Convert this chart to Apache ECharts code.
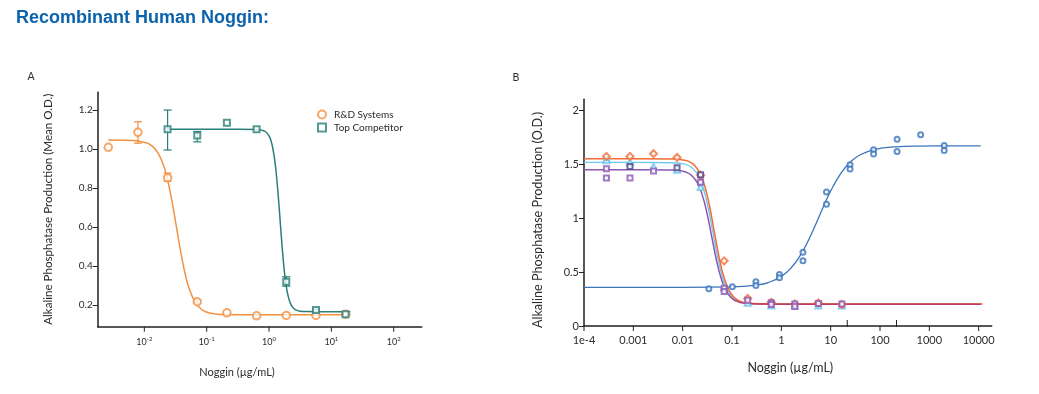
<!DOCTYPE html>
<html><head><meta charset="utf-8">
<script src="https://cdn.jsdelivr.net/npm/echarts@6/dist/echarts.min.js"></script>
<style>html,body{margin:0;padding:0;background:#fff}#c{width:1039px;height:394px}</style>
</head><body><div id="c"></div>
<script>
// ---------- Panel A data ----------
const concA = [0.00264, 0.00789, 0.0236, 0.0706, 0.211, 0.632, 1.89, 5.66, 16.9];
const rndA = [1.009, 1.086, 0.853, 0.217, 0.160, 0.145, 0.147, 0.147, 0.153];
const compConcA = [0.0236, 0.0706, 0.211, 0.632, 1.89, 5.66, 16.9];
const compA = [1.101, 1.069, 1.135, 1.101, 0.319, 0.174, 0.153];
const rndErrA = [[0.00789, 1.03, 1.14], [0.0236, 0.834, 0.877], [0.0706, 0.209, 0.225]];
const compErrA = [[0.0236, 0.995, 1.2], [0.0706, 1.037, 1.09], [1.89, 0.297, 0.345], [5.66, 0.168, 0.18]];
const rndFitA = [[0.00264,1.046],[0.00646,1.0438],[0.01023,1.034],[0.01288,1.019],[0.01622,0.984],[0.02042,0.914],[0.02291,0.858],[0.0257,0.788],[0.02884,0.703],[0.03236,0.610],[0.03631,0.515],[0.04074,0.428],[0.04571,0.353],[0.05129,0.294],[0.06457,0.218],[0.08128,0.180],[0.1023,0.163],[0.1288,0.156],[0.1622,0.152],[0.257,0.1505],[0.646,0.15],[20.4,0.15]];
const compFitA = [[0.0236,1.101],[0.3162,1.101],[0.631,1.1001],[0.794,1.0954],[0.891,1.0872],[1.0,1.0671],[1.072,1.0435],[1.148,1.0054],[1.230,0.9466],[1.318,0.8619],[1.413,0.7515],[1.514,0.6249],[1.622,0.4995],[1.738,0.3923],[1.862,0.3111],[1.995,0.2554],[2.188,0.2110],[2.399,0.1881],[2.692,0.1749],[3.162,0.1685],[3.981,0.1666],[6.31,0.166],[20.2,0.166]];
const yTicksA = [0.2, 0.4, 0.6, 0.8, 1.0, 1.2];
const xTickValsA = [0.01, 0.1, 1, 10, 100];
const xTickSupA = ['-2', '-1', '0', '1', '2'];

// ---------- Panel B data ----------
const orangePtsB = [[0.000285,1.575],[0.000855,1.575],[0.00257,1.60],[0.0077,1.565],[0.0231,1.40],[0.0694,0.605],[0.208,0.255],[0.625,0.22],[1.875,0.205],[5.63,0.215],[16.9,0.2]];
const cyanPtsB = [[0.000285,1.555],[0.000285,1.54],[0.000855,1.52],[0.00257,1.48],[0.0077,1.45],[0.0231,1.29],[0.0694,0.365],[0.208,0.215],[0.625,0.19],[1.875,0.19],[5.63,0.19],[16.9,0.19]];
const purplePtsB = [[0.000285,1.46],[0.000285,1.375],[0.000855,1.375],[0.00257,1.44],[0.0231,1.335],[0.0694,0.35],[0.0694,0.32],[0.208,0.24],[0.625,0.215],[0.625,0.2],[1.875,0.205],[1.875,0.18],[5.63,0.21],[16.9,0.205]];
const darkPtsB = [[0.000855,1.48],[0.0077,1.47],[0.0231,1.405]];
const bluePtsB = [[0.0339,0.345],[0.1016,0.365],[0.305,0.41],[0.305,0.377],[0.914,0.479],[0.914,0.448],[2.74,0.685],[2.74,0.606],[8.23,1.244],[8.23,1.13],[24.7,1.497],[24.7,1.457],[74.1,1.636],[74.1,1.596],[222,1.735],[222,1.62],[667,1.775],[2000,1.676],[2000,1.63]];
const orangeFitB = [[0.0001,1.553],[0.001,1.5528],[0.00692,1.5499],[0.01096,1.539],[0.0138,1.5235],[0.01738,1.4914],[0.02188,1.428],[0.02754,1.311],[0.03467,1.1234],[0.04365,0.879],[0.05495,0.6346],[0.06918,0.447],[0.0871,0.3301],[0.1096,0.2666],[0.138,0.2345],[0.1738,0.219],[0.2754,0.2081],[0.5495,0.2053],[2,0.205],[12000,0.205]];
const cyanFitB = [[0.0001,1.519],[0.001,1.5188],[0.00653,1.516],[0.01035,1.5054],[0.01303,1.4902],[0.01641,1.459],[0.02065,1.397],[0.026,1.2832],[0.03273,1.1002],[0.04121,0.862],[0.05188,0.6238],[0.06531,0.4409],[0.08222,0.3269],[0.1035,0.265],[0.1303,0.2338],[0.1641,0.2186],[0.26,0.208],[0.5188,0.2053],[2,0.205],[11000,0.205]];
const purpleFitB = [[0.0001,1.451],[0.001,1.4508],[0.00617,1.4482],[0.00977,1.4381],[0.0123,1.4237],[0.01549,1.394],[0.0195,1.3352],[0.02455,1.227],[0.0309,1.0533],[0.0389,0.827],[0.049,0.6007],[0.0617,0.427],[0.0776,0.3188],[0.0977,0.26],[0.123,0.2303],[0.1549,0.2159],[0.2455,0.2059],[0.49,0.2032],[2,0.203],[11000,0.203]];
const blueFitB = [[0.0001,0.358],[0.01,0.3582],[0.1,0.3624],[0.3162,0.3799],[0.5623,0.406],[1,0.461],[1.585,0.5412],[2.512,0.668],[3.548,0.7963],[5.012,0.9469],[7.079,1.105],[10,1.253],[15.85,1.4133],[25.12,1.5227],[39.81,1.5897],[79.43,1.64],[199.5,1.6637],[631,1.6711],[3162,1.6728],[10965,1.673]];
const extraTicksB = [21.7, 216];
const yTicksB = [0, 0.5, 1, 1.5, 2];
const yTickLabelsB = ['0', '0.5', '1', '1.5', '2'];
const xTickValsB = [1e-4, 1e-3, 0.01, 0.1, 1, 10, 100, 1000, 10000];
const xTickLabelsB = ['1e-4', '0.001', '0.01', '0.1', '1', '10', '100', '1000', '10000'];

// ---------- styles ----------
const FONT = 'Lato';
const AX = '#231f20';
const TXT = '#2b2b2b';
const cOrA = '#f39143', cTeal = '#2b7f79';
const cOrB = '#f26a35', cCyan = '#6cc7ee', cPur = '#8c55b2', cBlue = '#3a74bb', cDark = '#4d4489', cRed = '#c03a63';

function idxOf(vals, v) {
  return vals.findIndex(t => Math.abs(Math.log10(v) - Math.log10(t)) < 1e-6);
}
function fmtA(v) { const i = idxOf(xTickValsA, v); return i < 0 ? '' : '{b|10}{s|' + xTickSupA[i] + '}'; }
function fmtB(v) { const i = idxOf(xTickValsB, v); return i < 0 ? '' : xTickLabelsB[i]; }
function fmtYB(v) { const i = yTicksB.findIndex(t => Math.abs(t - v) < 1e-9); return i < 0 ? '' : yTickLabelsB[i]; }

function errBars(color) {
  return function (params, api) {
    const x = api.value(0), lo = api.value(1), hi = api.value(2);
    const p1 = api.coord([x, lo]), p2 = api.coord([x, hi]);
    const w = 4;
    const st = { stroke: color, lineWidth: 1.2 };
    return { type: 'group', children: [
      { type: 'line', shape: { x1: p1[0], y1: p1[1], x2: p2[0], y2: p2[1] }, style: st },
      { type: 'line', shape: { x1: p1[0] - w, y1: p1[1], x2: p1[0] + w, y2: p1[1] }, style: st },
      { type: 'line', shape: { x1: p2[0] - w, y1: p2[1], x2: p2[0] + w, y2: p2[1] }, style: st }
    ]};
  };
}
// x-axis tick marks drawn at the tick values through the axis scale (down = outward, up = inward)
function tickMarks(dir, len) {
  return function (params, api) {
    const p = api.coord([api.value(0), api.value(1)]);
    return { type: 'line', shape: { x1: p[0], y1: p[1] + (dir > 0 ? 0 : 1), x2: p[0], y2: p[1] + dir * len },
      style: { stroke: AX, lineWidth: 1 } };
  };
}

const zip = (xs, ys) => xs.map((x, i) => [x, ys[i]]);
const atBase = (xs, y) => xs.map(x => [x, y]);

const axisCommon = {
  axisLine: { show: true, lineStyle: { color: AX, width: 1.5 } },
  splitLine: { show: false },
  minorTick: { show: false },
  minorSplitLine: { show: false }
};
const Y0A = 0.089, Y1A = 1.291, Y0B = 0, Y1B = 2.105;

const fitLine = (name, xi, data, color, width, z) => ({
  name, type: 'line', xAxisIndex: xi, yAxisIndex: xi, data, showSymbol: false, smooth: 0.5,
  lineStyle: { color, width }, silent: true, z: z || 2
});

const chart = echarts.init(document.getElementById('c'), null, { renderer: 'canvas' });
chart.setOption({
  animation: false,
  backgroundColor: '#fff',
  title: { text: 'Recombinant Human Noggin:', left: 16, top: 9, padding: 0,
    textStyle: { fontFamily: 'Liberation Sans, Arial', fontWeight: 'bold', fontSize: 18, color: '#0b62ad' } },
  legend: {
    data: [{ name: 'R&D Systems', icon: 'emptyCircle' }, { name: 'Top Competitor', icon: 'emptyRect' }],
    orient: 'vertical', left: 317, top: 109.5, padding: 0, itemWidth: 8, itemHeight: 8, itemGap: 3,
    selectedMode: false,
    textStyle: { fontFamily: FONT, fontSize: 10, color: TXT, padding: [0, 0, 0, 3] }
  },
  grid: [
    { left: 97.7, right: 617.3, top: 92.3, bottom: 67.3 },
    { left: 584, right: 47.3, top: 99.3, bottom: 68 }
  ],
  xAxis: [
    Object.assign({}, axisCommon, {
      type: 'log', logBase: 10, gridIndex: 0, min: 0.001786, max: 281.2,
      axisTick: { show: false },
      axisLabel: { formatter: fmtA, margin: 9, color: TXT,
        rich: { b: { fontFamily: FONT, fontSize: 9, color: TXT, lineHeight: 12 },
                s: { fontFamily: FONT, fontSize: 6, color: TXT, verticalAlign: 'top' } } }
    }),
    Object.assign({}, axisCommon, {
      type: 'log', logBase: 10, gridIndex: 1, min: 0.0001, max: 18365,
      axisTick: { show: false },
      axisLabel: { formatter: fmtB, margin: 9, fontFamily: FONT, fontSize: 11, color: TXT }
    })
  ],
  yAxis: [
    Object.assign({}, axisCommon, {
      type: 'value', gridIndex: 0, min: Y0A, max: Y1A,
      axisTick: { show: true, length: 5, customValues: yTicksA, lineStyle: { color: AX, width: 1 } },
      axisLabel: { customValues: yTicksA, formatter: v => v.toFixed(1), margin: 5, fontFamily: FONT, fontSize: 10, color: TXT }
    }),
    Object.assign({}, axisCommon, {
      type: 'value', gridIndex: 1, min: Y0B, max: Y1B,
      axisTick: { show: true, length: 5, customValues: yTicksB, lineStyle: { color: AX, width: 1 } },
      axisLabel: { customValues: yTicksB, formatter: fmtYB, margin: 5, fontFamily: FONT, fontSize: 11, color: TXT }
    })
  ],
  graphic: [
    { type: 'text', x: 27.5, y: 77, style: { text: 'A', fontFamily: FONT, fontSize: 10.5, fill: TXT, verticalAlign: 'middle' } },
    { type: 'text', x: 512.5, y: 78, style: { text: 'B', fontFamily: FONT, fontSize: 10.5, fill: TXT, verticalAlign: 'middle' } },
    { type: 'text', x: 48.3, y: 209.2, rotation: Math.PI / 2,
      style: { text: 'Alkaline Phosphatase Production (Mean O.D.)', fontFamily: FONT, fontSize: 11.6, fill: TXT, align: 'center', verticalAlign: 'middle' } },
    { type: 'text', x: 538.3, y: 220, rotation: Math.PI / 2,
      style: { text: 'Alkaline Phosphatase Production (O.D.)', fontFamily: FONT, fontSize: 12.6, fill: TXT, align: 'center', verticalAlign: 'middle' } },
    { type: 'text', x: 237, y: 372.7,
      style: { text: 'Noggin (µg/mL)', fontFamily: FONT, fontSize: 11, fill: TXT, align: 'center', verticalAlign: 'middle' } },
    { type: 'text', x: 790.3, y: 368.3,
      style: { text: 'Noggin (µg/mL)', fontFamily: FONT, fontSize: 12.5, fill: TXT, align: 'center', verticalAlign: 'middle' } }
  ],
  series: [
    // ----- Panel A -----
    fitLine('rndFit', 0, rndFitA, cOrA, 1.5),
    fitLine('compFit', 0, compFitA, cTeal, 1.5),
    { name: 'rndErr', type: 'custom', xAxisIndex: 0, yAxisIndex: 0, data: rndErrA, renderItem: errBars(cOrA), encode: { x: 0, y: [1, 2] }, z: 3 },
    { name: 'compErr', type: 'custom', xAxisIndex: 0, yAxisIndex: 0, data: compErrA, renderItem: errBars(cTeal), encode: { x: 0, y: [1, 2] }, z: 3 },
    { name: 'R&D Systems', type: 'scatter', xAxisIndex: 0, yAxisIndex: 0, data: zip(concA, rndA), symbol: 'emptyCircle', symbolSize: 7.5,
      itemStyle: { color: cOrA, borderColor: cOrA, borderWidth: 1.1 }, z: 4 },
    { name: 'Top Competitor', type: 'scatter', xAxisIndex: 0, yAxisIndex: 0, data: zip(compConcA, compA), symbol: 'emptyRect', symbolSize: 6,
      itemStyle: { color: cTeal, borderColor: cTeal, borderWidth: 1.1 }, z: 4 },
    { name: 'ticksA', type: 'custom', xAxisIndex: 0, yAxisIndex: 0, data: atBase(xTickValsA, Y0A), encode: { x: 0, y: 1 },
      clip: false, silent: true, z: 5, renderItem: tickMarks(1, 5) },
    // ----- Panel B -----
    fitLine('blueFit', 1, blueFitB, cBlue, 1.3),
    fitLine('cyanFit', 1, cyanFitB, cCyan, 1.3),
    fitLine('orangeFit', 1, orangeFitB, cOrB, 1.5),
    { name: 'purpleFit', type: 'line', xAxisIndex: 1, yAxisIndex: 1, data: purpleFitB, showSymbol: false, smooth: 0.5,
      lineStyle: { width: 1.5, color: new echarts.graphic.LinearGradient(0, 0, 1, 0, [
        { offset: 0, color: cPur }, { offset: 0.35, color: cPur }, { offset: 0.42, color: cRed }, { offset: 1, color: cRed }]) },
      silent: true, z: 2 },
    { name: 'bluePts', type: 'scatter', xAxisIndex: 1, yAxisIndex: 1, data: bluePtsB, symbol: 'emptyCircle', symbolSize: 5,
      itemStyle: { color: cBlue, borderColor: cBlue, borderWidth: 1 }, z: 4 },
    { name: 'cyanPts', type: 'scatter', xAxisIndex: 1, yAxisIndex: 1, data: cyanPtsB, symbol: 'emptyTriangle', symbolSize: 6,
      itemStyle: { color: cCyan, borderColor: cCyan, borderWidth: 1 }, z: 4 },
    { name: 'orangePts', type: 'scatter', xAxisIndex: 1, yAxisIndex: 1, data: orangePtsB, symbol: 'emptyDiamond', symbolSize: 7,
      itemStyle: { color: cOrB, borderColor: cOrB, borderWidth: 1 }, z: 4 },
    { name: 'purplePts', type: 'scatter', xAxisIndex: 1, yAxisIndex: 1, data: purplePtsB, symbol: 'emptyRect', symbolSize: 5,
      itemStyle: { color: cPur, borderColor: cPur, borderWidth: 1 }, z: 4 },
    { name: 'darkPts', type: 'scatter', xAxisIndex: 1, yAxisIndex: 1, data: darkPtsB, symbol: 'emptyRect', symbolSize: 5,
      itemStyle: { color: cDark, borderColor: cDark, borderWidth: 1 }, z: 4 },
    { name: 'ticksB', type: 'custom', xAxisIndex: 1, yAxisIndex: 1, data: atBase(xTickValsB, Y0B), encode: { x: 0, y: 1 },
      clip: false, silent: true, z: 5, renderItem: tickMarks(1, 5) },
    { name: 'extraTicksB', type: 'custom', xAxisIndex: 1, yAxisIndex: 1, data: atBase(extraTicksB, Y0B), encode: { x: 0, y: 1 },
      clip: false, silent: true, z: 5, renderItem: tickMarks(-1, 6) }
  ]
});
</script>
</body></html>
